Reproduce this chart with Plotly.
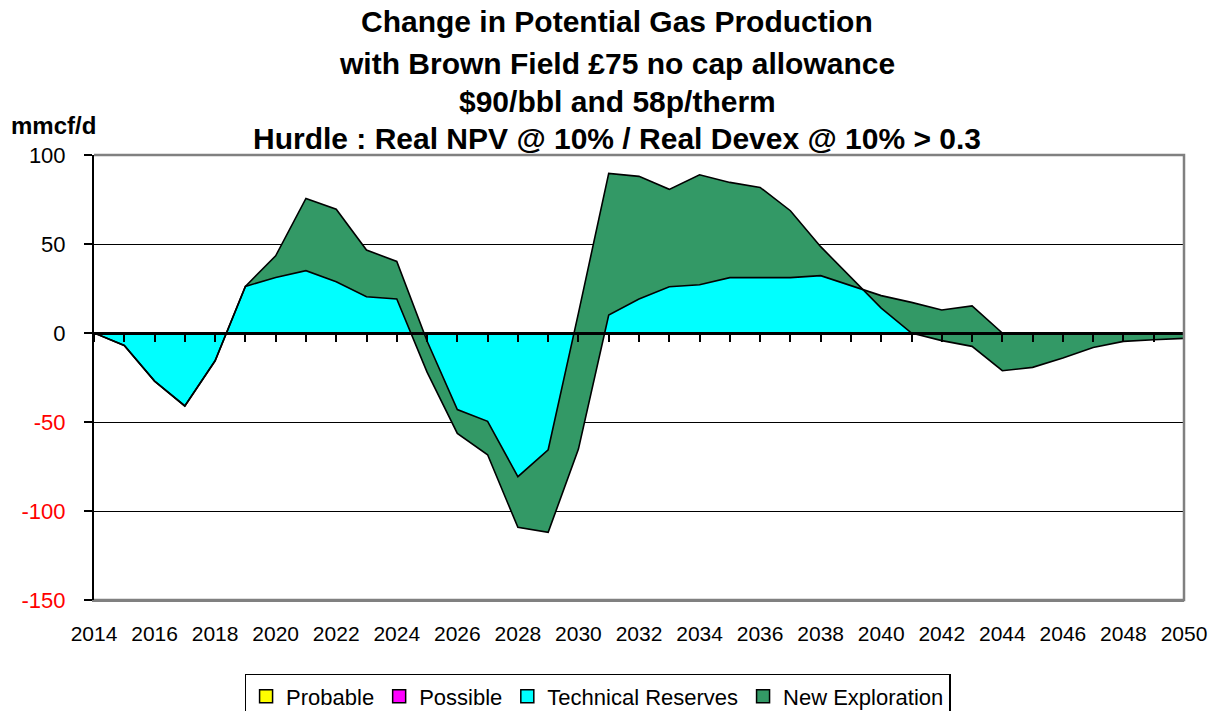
import plotly.graph_objects as go

years = list(range(2014, 2051))

probable = [0, 0, 0, 0, 0, 0, 0, 0, 0, 0, 0, 0, 0, 0, 0, 0, 0, 0, 0,
            0, 0, 0, 0, 0, 0, 0, 0, 0, 0, 0, 0, 0, 0, 0, 0, 0, 0]
possible = [0, 0, 0, 0, 0, 0, 0, 0, 0, 0, 0, 0, 0, 0, 0, 0, 0, 0, 0,
            0, 0, 0, 0, 0, 0, 0, 0, 0, 0, 0, 0, 0, 0, 0, 0, 0, 0]
technical_reserves = [0, -7, -27, -41, -15.6, 26.2, 31.2, 35, 28.8, 20.4,
                      19.1, -22, -56.4, -68.4, -109.2, -112, -65.2, 10.1, 19.1, 26,
                      27.1, 31.1, 31.1, 31.1, 32.2, 26.8, 21, 17.2, 12.9, 15.2,
                      0, 0, 0, 0, 0, 0, 0]
new_exploration = [0, 0, 0, 0, 0, 0, 12.2, 40.6, 40.7, 26.2,
                   21.1, 17.5, 13.4, 18.8, 28.5, 46.4, 76.4, 79.6, 68.9, 54.7,
                   61.8, 53.5, 50.7, 37.6, 16.3, 4.6, -7, -17.2, -17.2, -22.7,
                   -21.2, -19.3, -14.1, -8.1, -4.7, -3.8, -3.0]

series_names = ["Probable", "Possible", "Technical Reserves", "New Exploration"]
series_colors = ["#FFFF00", "#FF00FF", "#00FFFF", "#339966"]
series_values = [probable, possible, technical_reserves, new_exploration]

y_tickvals = [-150, -100, -50, 0, 50, 100]
x_tickvals = years[::2]

title_lines = [
    "Change in Potential Gas Production",
    "with Brown Field £75 no cap allowance",
    "$90/bbl and 58p/therm",
    "Hurdle : Real NPV @ 10% / Real Devex @ 10% > 0.3",
]

FONT = "Liberation Sans, Arial, sans-serif"

fig = go.Figure()

for name, color, vals in zip(series_names, series_colors, series_values):
    fig.add_trace(go.Scatter(
        x=years, y=vals, name=name, mode="lines",
        stackgroup="one", fillcolor=color,
        line=dict(color="black", width=1.6),
        showlegend=False, hoverinfo="skip",
    ))

# legend entries with square swatches
for name, color in zip(series_names, series_colors):
    fig.add_trace(go.Scatter(
        x=[None], y=[None], name=name, mode="markers",
        marker=dict(symbol="square", size=13, color=color,
                    line=dict(color="black", width=1.5)),
        showlegend=True, hoverinfo="skip",
    ))

# invisible trace so the zero-line category axis renders
fig.add_trace(go.Scatter(x=[years[0]], y=[0], xaxis="x2", mode="markers",
                         marker=dict(opacity=0), showlegend=False, hoverinfo="skip"))

def ylab(v):
    if v < 0:
        return '<span style="color:#FF0000">%d</span>' % v
    return str(v)

fig.update_layout(
    width=1218, height=711,
    margin=dict(l=94, r=34, t=155, b=111, autoexpand=False),
    paper_bgcolor="white", plot_bgcolor="white",
    font=dict(family=FONT, color="black", size=21),
    showlegend=True,
    legend=dict(
        orientation="h", x=0.462, xanchor="center", y=-0.166, yanchor="top",
        bordercolor="black", borderwidth=1.5, traceorder="normal",
        font=dict(family=FONT, size=22, color="black"),
        itemwidth=30, tracegroupgap=0,
    ),
    xaxis=dict(
        range=[2014, 2050], tickmode="array", tickvals=x_tickvals,
        ticktext=[str(v) for v in x_tickvals],
        showgrid=False, zeroline=False,
        showline=True, linecolor="#808080", linewidth=2,
        ticks="", tickfont=dict(size=21), ticklabelstandoff=14,
    ),
    xaxis2=dict(
        overlaying="x", anchor="free", position=0.6,
        range=[2014, 2050], tickmode="linear", tick0=2014, dtick=1,
        ticks="outside", ticklen=7, tickwidth=2, tickcolor="black",
        showticklabels=False, showgrid=False, zeroline=False,
        showline=True, linecolor="black", linewidth=2.5,
    ),
    yaxis=dict(
        range=[-150, 100], tickmode="array", tickvals=y_tickvals,
        ticktext=[ylab(v) for v in y_tickvals],
        showgrid=True, gridcolor="black", gridwidth=1.2,
        zeroline=False, showline=True, linecolor="black", linewidth=2,
        ticks="outside", ticklen=8, tickwidth=1.5, tickcolor="black",
        tickfont=dict(size=22), ticklabelstandoff=14,
    ),
    shapes=[dict(
        type="path", xref="paper", yref="paper",
        path="M 0,1 L 1,1 L 1,0 L 0,0",
        line=dict(color="#808080", width=2.5), layer="above",
    )],
)

title_y = [1.2989, 1.2067, 1.1213, 1.0360]
for txt, yy in zip(title_lines, title_y):
    fig.add_annotation(
        text="<b>%s</b>" % txt, xref="paper", yref="paper",
        x=0.48, y=yy, xanchor="center", yanchor="middle", showarrow=False,
        font=dict(family=FONT, size=30, color="black"),
    )

fig.add_annotation(
    text="<b>mmcf/d</b>", xref="paper", yref="paper",
    x=-0.0376, y=1.0674, xanchor="center", yanchor="middle", showarrow=False,
    font=dict(family=FONT, size=24, color="black"),
)

fig.write_html(
    "out.html",
    config={"displayModeBar": False},
    post_script="document.body.style.margin='0';document.body.style.overflow='hidden';",
)
